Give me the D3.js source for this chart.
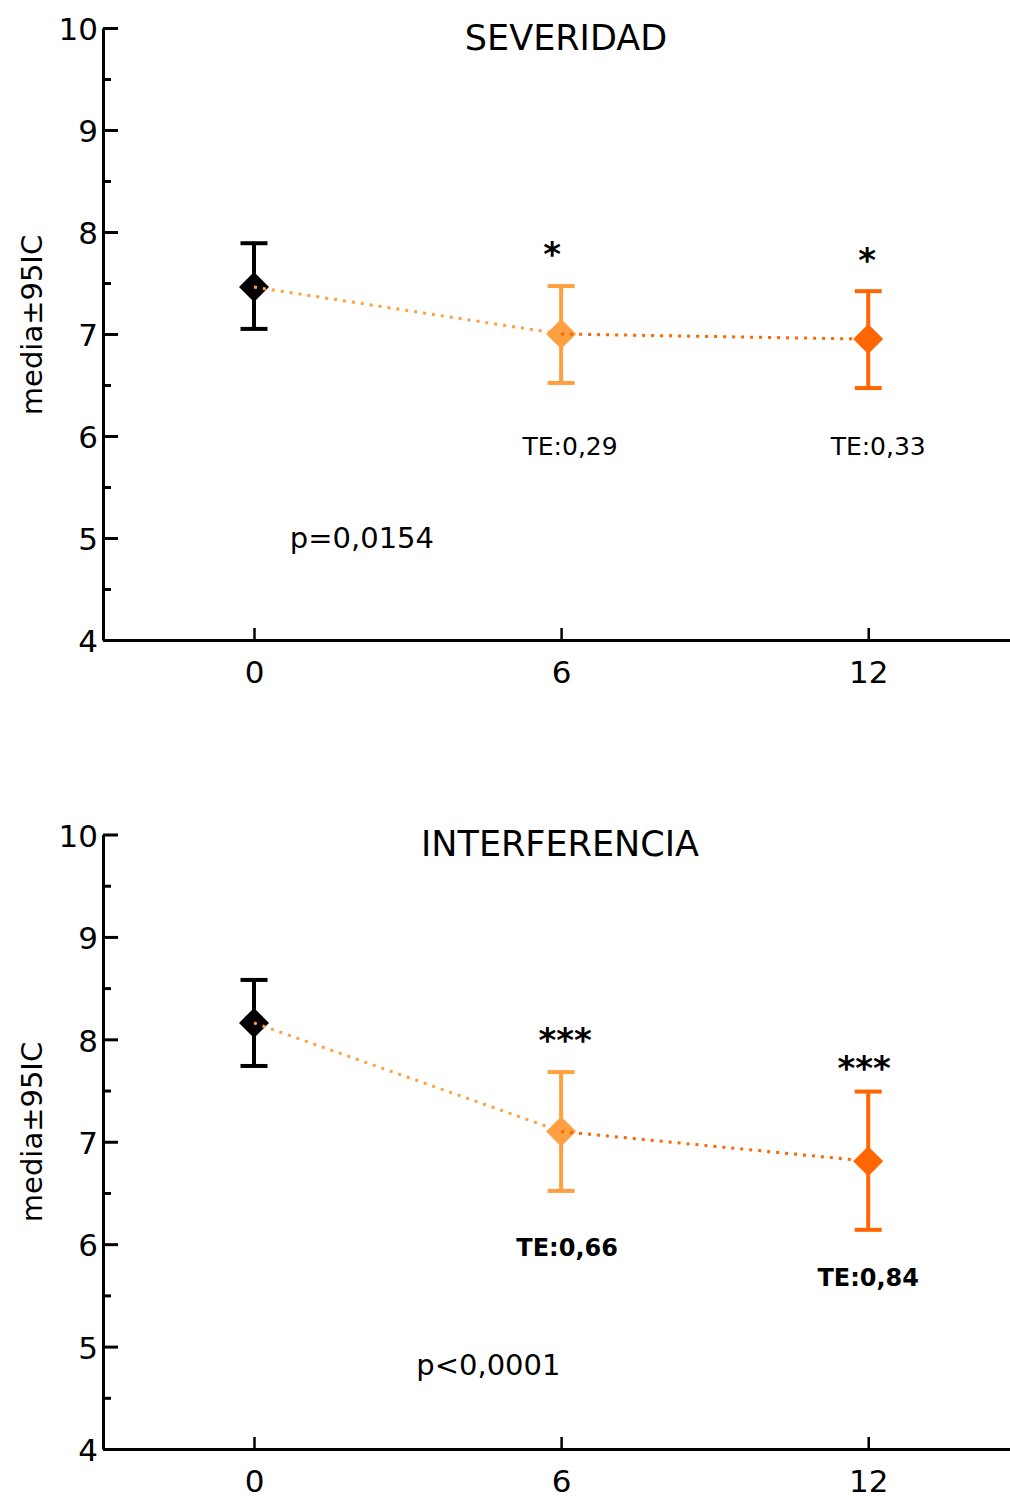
<!DOCTYPE html>
<html>
<head>
<meta charset="utf-8">
<script src="https://cdn.jsdelivr.net/npm/d3@7"></script>
<style>
  body { margin: 0; background: #ffffff; }
  text { font-family: "DejaVu Sans", "Noto Sans", sans-serif; fill: #000; }
</style>
</head>
<body>
<svg id="chart" width="1010" height="1501"></svg>
<script>
// Follow-up months and axis ticks
const months = [0, 6, 12];
const xTickLabels = ["0", "6", "12"];
const yTickValues = [4, 5, 6, 7, 8, 9, 10];
const yMinorTicks = [4.5, 5.5, 6.5, 7.5, 8.5, 9.5];

// SEVERIDAD: mean and 95% CI per visit
const severidadMedia = [7.46, 7.00, 6.95];
const severidadLow = [7.05, 6.52, 6.47];
const severidadHigh = [7.89, 7.47, 7.42];
const severidadStars = ["", "*", "*"];
const severidadTE = ["", "TE:0,29", "TE:0,33"];
const severidadP = "p=0,0154";

// INTERFERENCIA: mean and 95% CI per visit
const interferenciaMedia = [8.16, 7.10, 6.81];
const interferenciaLow = [7.74, 6.52, 6.14];
const interferenciaHigh = [8.58, 7.68, 7.49];
const interferenciaStars = ["", "***", "***"];
const interferenciaTE = ["", "TE:0,66", "TE:0,84"];
const interferenciaP = "p<0,0001";

// One colour per visit (baseline, 6 and 12 months)
const pointColors = ["#000000", "#ffa040", "#ff6600"];

const svg = d3.select("#chart");

// Panel frames and where their annotations sit (pixel offsets / data units)
const panels = [
  {
    title: "SEVERIDAD", media: severidadMedia, low: severidadLow, high: severidadHigh,
    stars: severidadStars, te: severidadTE, p: severidadP,
    top: 28, bottom: 640,
    titlePos: { x: 566, y: 37 },
    starPos: [null, { dx: -9, v: 7.82 }, { dx: -1, v: 7.76 }],
    tePos: [null, { dx: 9, v: 5.90 }, { dx: 10, v: 5.90 }],
    teBold: false,
    pPos: { m: 0.70, v: 5.0 },
    yLabelY: 325
  },
  {
    title: "INTERFERENCIA", media: interferenciaMedia, low: interferenciaLow, high: interferenciaHigh,
    stars: interferenciaStars, te: interferenciaTE, p: interferenciaP,
    top: 834.5, bottom: 1449,
    titlePos: { x: 560, y: 843 },
    starPos: [null, { dx: 4, v: 8.03 }, { dx: -4, v: 7.76 }],
    tePos: [null, { dx: 6, v: 5.97 }, { dx: 0, v: 5.68 }],
    teBold: true,
    pPos: { m: 3.17, v: 4.82 },
    yLabelY: 1132
  }
];

function drawPanel(cfg) {
  const x = d3.scaleLinear().domain([-2.95, 14.77]).range([103, 1010]);
  const y = d3.scaleLinear().domain([4, 10]).range([cfg.bottom, cfg.top]);
  const g = svg.append("g");

  // Y axis: major ticks with labels, ticks pointing inward
  const yAxis = g.append("g")
    .attr("transform", `translate(${x.range()[0]},0)`)
    .call(d3.axisLeft(y).tickValues(yTickValues).tickFormat(d3.format("d"))
      .tickSize(-15).tickSizeOuter(0).tickPadding(5));
  yAxis.select(".domain").attr("stroke-width", 3);
  yAxis.selectAll(".tick line").attr("stroke-width", 3);
  yAxis.selectAll(".tick text").attr("font-size", 31).attr("dy", "0.38em")
    .style("font-family", "'DejaVu Sans', sans-serif");

  // Y axis: minor ticks
  const yMinor = g.append("g")
    .attr("transform", `translate(${x.range()[0]},0)`)
    .call(d3.axisLeft(y).tickValues(yMinorTicks).tickFormat("").tickSize(-8).tickSizeOuter(0));
  yMinor.select(".domain").remove();
  yMinor.selectAll(".tick line").attr("stroke-width", 3);

  // X axis
  const xAxis = g.append("g")
    .attr("transform", `translate(0,${y(4)})`)
    .call(d3.axisBottom(x).tickValues(months).tickFormat((d, i) => xTickLabels[i])
      .tickSize(-12).tickSizeOuter(0).tickPadding(21));
  xAxis.select(".domain").attr("stroke-width", 3);
  xAxis.selectAll(".tick line").attr("stroke-width", 2.5);
  xAxis.selectAll(".tick text").attr("font-size", 31)
    .style("font-family", "'DejaVu Sans', sans-serif");

  // Y axis title
  g.append("text")
    .attr("transform", `translate(42,${cfg.yLabelY}) rotate(-90)`)
    .attr("text-anchor", "middle")
    .attr("font-size", 29)
    .text("media±95IC");

  // Panel title
  g.append("text")
    .attr("x", cfg.titlePos.x).attr("y", cfg.titlePos.y)
    .attr("dy", "0.36em")
    .attr("text-anchor", "middle")
    .attr("font-size", 35)
    .text(cfg.title);

  const pts = months.map((m, i) => ({
    m, i, media: cfg.media[i], low: cfg.low[i], high: cfg.high[i], color: pointColors[i]
  }));

  // Error bars
  const bars = g.append("g").selectAll("g").data(pts).join("g")
    .attr("stroke", d => d.color).attr("stroke-width", 4);
  bars.append("line")
    .attr("x1", d => x(d.m)).attr("x2", d => x(d.m))
    .attr("y1", d => y(d.low)).attr("y2", d => y(d.high));
  bars.append("line")
    .attr("x1", d => x(d.m) - 13.5).attr("x2", d => x(d.m) + 13.5)
    .attr("y1", d => y(d.high)).attr("y2", d => y(d.high));
  bars.append("line")
    .attr("x1", d => x(d.m) - 13.5).attr("x2", d => x(d.m) + 13.5)
    .attr("y1", d => y(d.low)).attr("y2", d => y(d.low));

  // Diamond markers at the mean
  const diamond = "M0,-15L15,0L0,15L-15,0Z";
  g.append("g").selectAll("path").data(pts).join("path")
    .attr("d", diamond)
    .attr("transform", d => `translate(${x(d.m)},${y(d.media)})`)
    .attr("fill", d => d.color);

  // Dotted connectors, each coloured like the visit it reaches
  const segs = pts.slice(1).map((d, k) => ({ a: pts[k], b: d }));
  g.append("g").selectAll("line").data(segs).join("line")
    .attr("x1", d => x(d.a.m)).attr("y1", d => y(d.a.media))
    .attr("x2", d => x(d.b.m)).attr("y2", d => y(d.b.media))
    .attr("stroke", d => d.b.color)
    .attr("stroke-width", 3)
    .attr("stroke-dasharray", "3,6");

  // Significance stars
  pts.forEach((d, i) => {
    if (!cfg.stars[i]) return;
    g.append("text")
      .attr("x", x(d.m) + cfg.starPos[i].dx)
      .attr("y", y(cfg.starPos[i].v))
      .attr("dy", "0.46em")
      .attr("text-anchor", "middle")
      .attr("font-size", 34)
      .attr("font-weight", "bold")
      .text(cfg.stars[i]);
  });

  // Effect size labels
  pts.forEach((d, i) => {
    if (!cfg.te[i]) return;
    g.append("text")
      .attr("x", x(d.m) + cfg.tePos[i].dx)
      .attr("y", y(cfg.tePos[i].v))
      .attr("dy", "0.36em")
      .attr("text-anchor", "middle")
      .attr("font-size", cfg.teBold ? 24 : 25)
      .attr("font-weight", cfg.teBold ? "bold" : "normal")
      .text(cfg.te[i]);
  });

  // Overall p value
  g.append("text")
    .attr("x", x(cfg.pPos.m))
    .attr("y", y(cfg.pPos.v))
    .attr("dy", "0.36em")
    .attr("font-size", 29)
    .text(cfg.p);
}

panels.forEach(drawPanel);
</script>
</body>
</html>
